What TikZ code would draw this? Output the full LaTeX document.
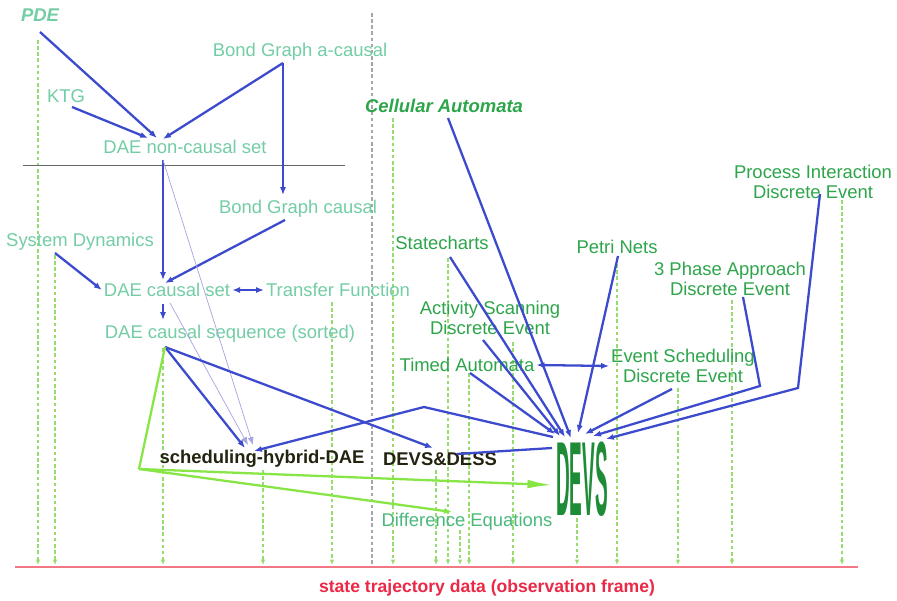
\documentclass[tikz,border=0pt]{standalone}
\usepackage{fontspec}
\setmainfont{Liberation Sans}
\usetikzlibrary{calc,arrows.meta,positioning}

\definecolor{mint}{RGB}{115,205,165}
\definecolor{seagreen}{RGB}{75,185,125}
\definecolor{leaf}{RGB}{45,165,75}
\definecolor{deepleaf}{RGB}{30,140,55}
\definecolor{flowblue}{RGB}{60,75,205}
\definecolor{thinblue}{RGB}{165,165,225}
\definecolor{lime}{RGB}{135,230,70}
\definecolor{obsgreen}{RGB}{150,220,110}
\definecolor{stateRed}{RGB}{235,40,70}
\definecolor{baseRed}{RGB}{240,120,130}
\definecolor{darkolive}{RGB}{35,35,15}

\tikzset{
  mintlabel/.style={text=mint, font=\fontsize{10.5}{11.5}\selectfont, inner sep=1pt, align=center},
  leaflabel/.style={text=leaf, font=\fontsize{10.5}{11.5}\selectfont, inner sep=1pt, align=center},
  hybridlabel/.style={text=darkolive, font=\fontsize{10.5}{11.5}\selectfont\bfseries, inner sep=1pt},
  flow/.style={->, flowblue, line width=1.3pt},
  thinflow/.style={->, thinblue, line width=0.4pt},
  limeflow/.style={->, lime, line width=1.3pt},
  obsline/.style={obsgreen, line width=0.8pt, dash pattern=on 2pt off 1.5pt, -{Latex[length=3pt,width=2.5pt]}}
}

\begin{document}
\begin{tikzpicture}[x=0.02cm,y=-0.02cm,>={Latex[length=4.5pt,width=3.5pt]}]
\fill[white] (0,0) rectangle (897,601);
\useasboundingbox (0,0) rectangle (897,601);

% observation lines down to the frame
\foreach \x/\y in {38/40,55/255,163/348,263/470,332/302,393/118,436/470,448/258,
                   460/530,469/373,513/342,577/518,617/258,678/388,732/300,842/200}
  \draw[obsline] (\x,\y) -- (\x,565);
\draw[gray!70, line width=0.8pt, dash pattern=on 2pt off 1.5pt] (372,13) -- (372,565);

% continuous side
\node[mintlabel, font=\fontsize{10.5}{11.5}\selectfont\bfseries\itshape] (pde) at (40,15) {PDE};
\node[mintlabel] (ktg) at (66,96) {KTG};
\node[mintlabel] (bga) at (300,52) {Bond Graph a-causal};
\node[mintlabel] (daenc) at (185,147) {DAE non-causal set};
\node[mintlabel] (bgc) at (298,209) {Bond Graph causal};
\node[mintlabel] (sysdyn) at (80,242) {System Dynamics};
\node[mintlabel] (daecs) at (167,290) {DAE causal set};
\node[mintlabel] (tf) at (338,290) {Transfer Function};
\node[mintlabel] (daeseq) at (230,334) {DAE causal sequence (sorted)};
\node[hybridlabel] (shd) at (262,459) {scheduling-hybrid-DAE};
\node[hybridlabel] (dd) at (440,459) {DEVS\&DESS};
\node[mintlabel, text=seagreen] (diffeq) at (467,522) {Difference Equations};

\draw[gray!80!black, line width=0.5pt] (23,165) -- (345,165); % causality cut

% discrete side
\node[leaflabel, font=\fontsize{10.5}{11.5}\selectfont\bfseries\itshape] (ca) at (444,106) {Cellular Automata};
\node[leaflabel] (stc) at (442,243) {Statecharts};
\node[leaflabel] (petri) at (617,247) {Petri Nets};
\node[leaflabel] (pi) at (813,182) {Process Interaction\\Discrete Event};
\node[leaflabel] (tpa) at (730,279) {3 Phase Approach\\Discrete Event};
\node[leaflabel] (as) at (490,318) {Activity Scanning\\Discrete Event};
\node[leaflabel] (ta) at (467,365) {Timed Automata};
\node[leaflabel] (es) at (683,366) {Event Scheduling\\Discrete Event};
\node[text=deepleaf, inner sep=0pt, font=\fontsize{60}{60}\selectfont\bfseries] (devs) at (582,479) {\scalebox{0.18}[1]{DEVS}};

% frame
\coordinate (basewest) at (15,567);
\coordinate (baseeast) at (858,567);
\draw[baseRed, line width=0.8pt] (basewest) -- (baseeast);
\node[text=stateRed, font=\fontsize{10}{11}\selectfont\bfseries, inner sep=1pt] (stdata) at (487,588) {state trajectory data (observation frame)};

% continuous flows
\draw[flow] ($(pde)+(0,17)$) -- ($(daenc)+(-28,-9)$);
\draw[flow] ($(ktg)+(6,11)$) -- ($(daenc)+(-37,-9)$);
\draw[flow] ($(bga)+(-17,11)$) -- ($(daenc)+(-22,-8)$);
\draw[flow] ($(bga)+(-17,11)$) -- ($(bgc)+(-15,-14)$);
\draw[flow] ($(daenc)+(-22,13)$) -- ($(daecs)+(-4,-10)$);
\draw[flow] ($(bgc)+(-13,11)$) -- ($(daecs)+(-2,-7)$);
\draw[flow] ($(sysdyn)+(-25,11)$) -- (daecs.west);
\draw[flow,<->] (daecs.east) -- (tf.west);
\draw[flow] ($(daecs)+(-4,14)$) -- ($(daeseq)+(-67,-14)$);
\draw[thinflow] ($(daenc)+(-22,13)$) -- ($(shd)+(-9,-14)$);
\draw[thinflow] ($(daecs)+(3,13)$) -- ($(shd)+(-14,-14)$);
\draw[flow] ($(daeseq)+(-65,13)$) -- ($(shd)+(-17,-11)$);
\draw[flow] ($(daeseq)+(-65,13)$) -- ($(dd)+(-7,-11)$);
\coordinate (kink) at (424,407);
\draw[flow] ($(devs)+(-29,-42)$) -- (kink) -- ($(shd)+(-8,-8)$);
\draw[flowblue, line width=1.3pt] ($(dd)+(17,-5)$) -- ($(devs)+(-30,-31)$);

% difference equations branch
\coordinate (bend) at (139,469);
\draw[lime, line width=1.3pt] ($(daeseq)+(-65,13)$) -- (bend);
\draw[limeflow, -{Latex[length=14pt,width=5pt]}] (bend) -- ($(devs)+(-30,6)$);
\draw[limeflow] (bend) -- ($(diffeq)+(-15,-10)$);

% discrete flows into DEVS
\draw[flow] ($(ca)+(4,12)$) -- ($(devs)+(-11,-41)$);
\draw[flow] ($(stc)+(8,14)$) -- ($(devs)+(-17,-42)$);
\draw[flow] ($(as)+(-7,22)$) -- ($(devs)+(-22,-43)$);
\draw[flow] ($(ta)+(3,8)$) -- ($(devs)+(-27,-45)$);
\draw[flow] ($(petri)+(1,9)$) -- ($(devs)+(-4,-46)$);
\draw[flow] ($(es)+(-11,23)$) -- ($(devs)+(3,-45)$);
\coordinate (tpakink) at (760,386);
\draw[flow] ($(tpa)+(13,18)$) -- (tpakink) -- ($(devs)+(11,-43)$);
\coordinate (pikink) at (798,388);
\draw[flow] ($(pi)+(7,12)$) -- (pikink) -- ($(devs)+(24,-40)$);
\draw[flow,<->] (ta.east) -- (es.west);

\end{tikzpicture}
\end{document}
